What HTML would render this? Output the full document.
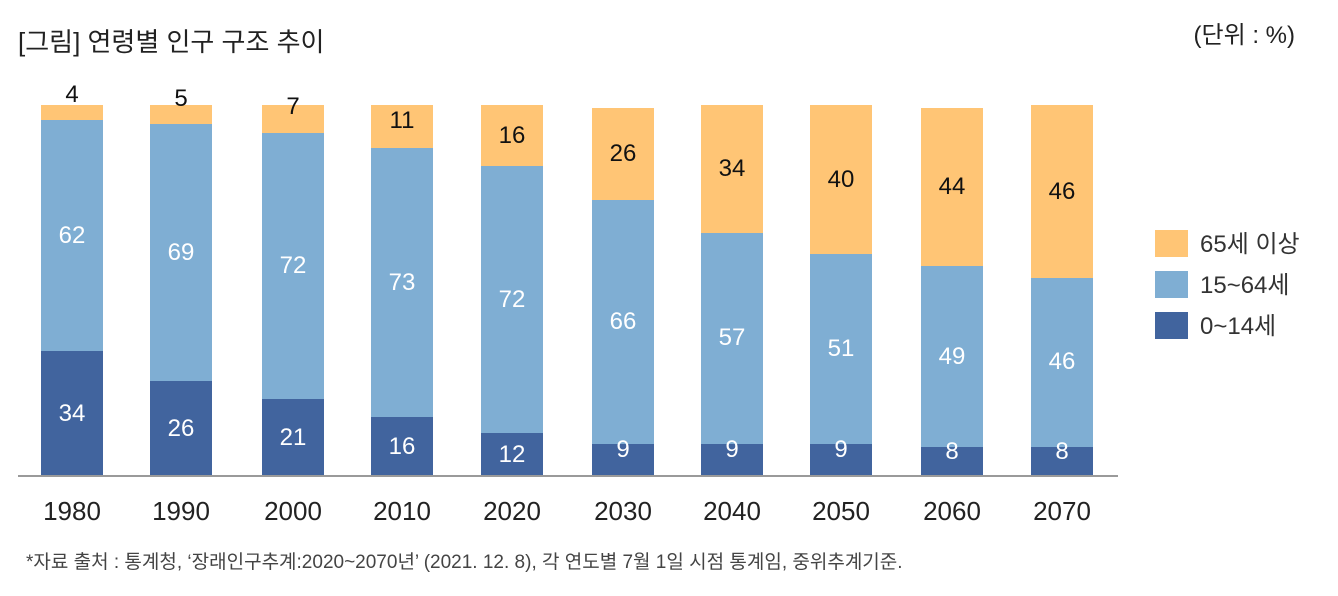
<!DOCTYPE html>
<html><head><meta charset="utf-8"><style>
body{margin:0;background:#fff;}
svg{display:block;font-family:"Liberation Sans","Noto Sans CJK KR",sans-serif;}
</style></head><body>
<svg width="1338" height="596" viewBox="0 0 1338 596">
<text x="18" y="51" font-size="26" fill="#222">[그림] 연령별 인구 구조 추이</text>
<text x="1295" y="43" font-size="24" fill="#222" text-anchor="end">(단위 : %)</text>
<g>
<rect x="41" y="105" width="62" height="15" fill="#FFC575"/><rect x="41" y="120" width="62" height="231" fill="#7FAED3"/><rect x="41" y="351" width="62" height="124" fill="#41649E"/>
<rect x="150" y="105" width="62" height="19" fill="#FFC575"/><rect x="150" y="124" width="62" height="257" fill="#7FAED3"/><rect x="150" y="381" width="62" height="94" fill="#41649E"/>
<rect x="262" y="105" width="62" height="28" fill="#FFC575"/><rect x="262" y="133" width="62" height="266" fill="#7FAED3"/><rect x="262" y="399" width="62" height="76" fill="#41649E"/>
<rect x="371" y="105" width="62" height="43" fill="#FFC575"/><rect x="371" y="148" width="62" height="269" fill="#7FAED3"/><rect x="371" y="417" width="62" height="58" fill="#41649E"/>
<rect x="481" y="105" width="62" height="61" fill="#FFC575"/><rect x="481" y="166" width="62" height="267" fill="#7FAED3"/><rect x="481" y="433" width="62" height="42" fill="#41649E"/>
<rect x="592" y="108" width="62" height="92" fill="#FFC575"/><rect x="592" y="200" width="62" height="244" fill="#7FAED3"/><rect x="592" y="444" width="62" height="31" fill="#41649E"/>
<rect x="701" y="105" width="62" height="128" fill="#FFC575"/><rect x="701" y="233" width="62" height="211" fill="#7FAED3"/><rect x="701" y="444" width="62" height="31" fill="#41649E"/>
<rect x="810" y="105" width="62" height="149" fill="#FFC575"/><rect x="810" y="254" width="62" height="190" fill="#7FAED3"/><rect x="810" y="444" width="62" height="31" fill="#41649E"/>
<rect x="921" y="108" width="62" height="158" fill="#FFC575"/><rect x="921" y="266" width="62" height="181" fill="#7FAED3"/><rect x="921" y="447" width="62" height="28" fill="#41649E"/>
<rect x="1031" y="105" width="62" height="173" fill="#FFC575"/><rect x="1031" y="278" width="62" height="169" fill="#7FAED3"/><rect x="1031" y="447" width="62" height="28" fill="#41649E"/>
</g>
<g font-size="24" text-anchor="middle" fill="#111">
<text x="72" y="102">4</text><text x="181" y="106">5</text><text x="293" y="114">7</text><text x="402" y="128">11</text><text x="512" y="143">16</text><text x="623" y="161">26</text><text x="732" y="176">34</text><text x="841" y="187">40</text><text x="952" y="194">44</text><text x="1062" y="199">46</text>
</g>
<g font-size="24" text-anchor="middle" fill="#fff">
<text x="72" y="243">62</text><text x="181" y="260">69</text><text x="293" y="273">72</text><text x="402" y="290">73</text><text x="512" y="307">72</text><text x="623" y="329">66</text><text x="732" y="345">57</text><text x="841" y="356">51</text><text x="952" y="364">49</text><text x="1062" y="369">46</text>
<text x="72" y="421">34</text><text x="181" y="436">26</text><text x="293" y="445">21</text><text x="402" y="454">16</text><text x="512" y="462">12</text><text x="623" y="457">9</text><text x="732" y="457">9</text><text x="841" y="457">9</text><text x="952" y="459">8</text><text x="1062" y="459">8</text>
</g>
<line x1="18" y1="476" x2="1118" y2="476" stroke="#9a9a9a" stroke-width="2"/>
<g font-size="26" text-anchor="middle" fill="#222">
<text x="72" y="520">1980</text><text x="181" y="520">1990</text><text x="293" y="520">2000</text><text x="402" y="520">2010</text><text x="512" y="520">2020</text><text x="623" y="520">2030</text><text x="732" y="520">2040</text><text x="841" y="520">2050</text><text x="952" y="520">2060</text><text x="1062" y="520">2070</text>
</g>
<g font-size="24" fill="#333">
<rect x="1155" y="230" width="33" height="27" fill="#FFC575"/><text x="1200" y="252">65세 이상</text>
<rect x="1155" y="271" width="33" height="27" fill="#7FAED3"/><text x="1200" y="293">15~64세</text>
<rect x="1155" y="312" width="33" height="27" fill="#41649E"/><text x="1200" y="334">0~14세</text>
</g>
<text x="26" y="568" font-size="19" fill="#444">*자료 출처 : 통계청, ‘장래인구추계:2020~2070년’ (2021. 12. 8), 각 연도별 7월 1일 시점 통계임, 중위추계기준.</text>
</svg>
</body></html>
